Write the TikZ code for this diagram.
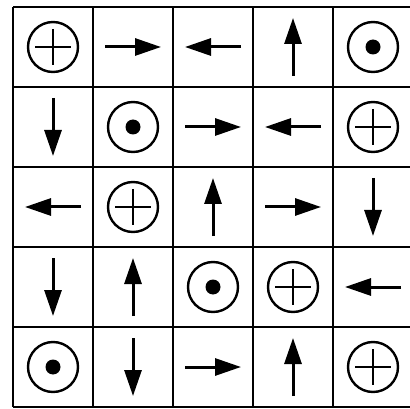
\documentclass[tikz,border=0pt]{standalone}
\usepackage{tikz}
\usetikzlibrary{arrows.meta}

\begin{document}
\begin{tikzpicture}[x=1pt,y=-1pt,
  gridline/.style={line width=2.8pt},
  ring/.style={line width=2.4pt},
  fieldarrow/.style={line width=3pt,-{Triangle[length=26pt,width=17pt]}}]
 \useasboundingbox (0,0) rectangle (410,409);
 % 5x5 grid, cells 80 units wide
 \foreach \i in {0,...,5}{
   \draw[gridline] (13+80*\i,7)--(13+80*\i,407);
   \draw[gridline] (13,7+80*\i)--(413,7+80*\i);
 }
 % into the page
 \foreach \c/\r in {0/0,4/1,1/2,3/3,4/4}{
   \draw[ring] (53+80*\c,47+80*\r) circle (25);
   \draw[ring] (35+80*\c,47+80*\r)--(71+80*\c,47+80*\r);
   \draw[ring] (53+80*\c,29+80*\r)--(53+80*\c,65+80*\r);
 }
 % out of the page
 \foreach \c/\r in {4/0,1/1,2/3,0/4}{
   \draw[ring] (53+80*\c,47+80*\r) circle (25);
   \fill (53+80*\c,47+80*\r) circle (7.5);
 }
 % in-plane arrows
 \foreach \c/\r in {1/0,2/1,3/2,2/4}
   \draw[fieldarrow] (25+80*\c,47+80*\r)--(81+80*\c,47+80*\r);
 \foreach \c/\r in {2/0,3/1,0/2,4/3}
   \draw[fieldarrow] (81+80*\c,47+80*\r)--(25+80*\c,47+80*\r);
 \foreach \c/\r in {3/0,2/2,1/3,3/4}
   \draw[fieldarrow] (53+80*\c,76+80*\r)--(53+80*\c,18+80*\r);
 \foreach \c/\r in {0/1,4/2,0/3,1/4}
   \draw[fieldarrow] (53+80*\c,18+80*\r)--(53+80*\c,76+80*\r);
\end{tikzpicture}
\end{document}
